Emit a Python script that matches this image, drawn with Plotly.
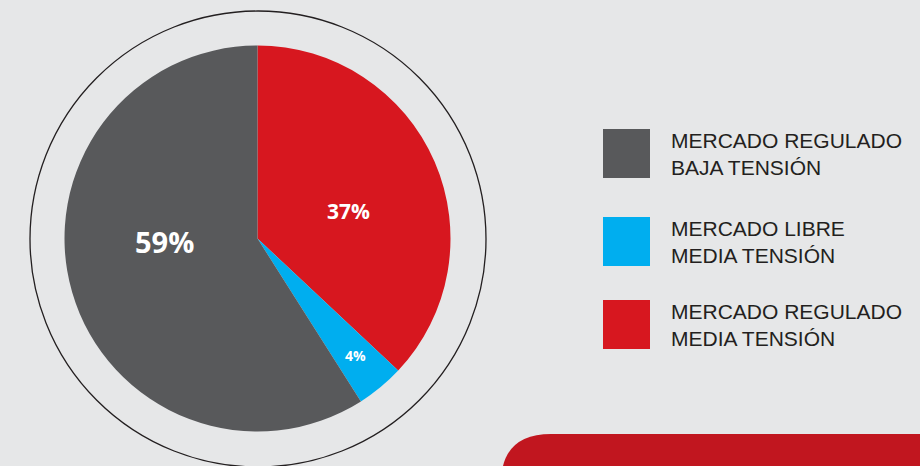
import plotly.graph_objects as go

# data
segments = ["MERCADO REGULADO<br>MEDIA TENSIÓN", "MERCADO LIBRE<br>MEDIA TENSIÓN", "MERCADO REGULADO<br>BAJA TENSIÓN"]
shares = [37, 4, 59]
seg_colors = ["#D7171F", "#00AEEF", "#58595B"]

# legend order as in the picture (top to bottom)
legend_order = [2, 1, 0]

W, H = 920, 466
BG = "#E6E7E8"


def px_x(x):
    return x / W


def px_y(y):
    # pixel from top -> paper from bottom
    return (H - y) / H


fig = go.Figure()

# pie, centred at (257, 238) with radius 193 px
cx, cy, r = 257.5, 238.5, 193
fig.add_trace(go.Pie(
    labels=segments,
    values=shares,
    marker=dict(colors=seg_colors, line=dict(width=0)),
    sort=False,
    direction="clockwise",
    rotation=0,
    textinfo="none",
    hoverinfo="label+percent",
    showlegend=False,
    domain=dict(x=[px_x(cx - r), px_x(cx + r)], y=[px_y(cy + r), px_y(cy - r)]),
))

# thin outer ring
R = 228
fig.add_shape(type="circle", xref="paper", yref="paper",
              x0=px_x(258 - R), x1=px_x(258 + R), y0=px_y(239 + R), y1=px_y(239 - R),
              line=dict(color="#231F20", width=1.3), layer="below")

# percentage labels
label_pos = [(348, 211, 21), (355, 355, 14), (164, 241, 29)]
for val, (lx, ly, fs) in zip(shares, label_pos):
    fig.add_annotation(x=px_x(lx), y=px_y(ly), xref="paper", yref="paper",
                       xanchor="center", yanchor="middle",
                       text=f"<b>{val}%</b>", showarrow=False,
                       font=dict(family="Open Sans", size=fs, color="white"))

# legend drawn by hand (big square swatches)
legend_tops = [129, 217, 300]
for top, i in zip(legend_tops, legend_order):
    fig.add_shape(type="rect", xref="paper", yref="paper",
                  x0=px_x(603), x1=px_x(650), y0=px_y(top + 49), y1=px_y(top),
                  fillcolor=seg_colors[i], line=dict(width=0))
    fig.add_annotation(x=px_x(669), y=px_y(top + 24.5), xref="paper", yref="paper",
                       text=segments[i], showarrow=False, xanchor="left", yanchor="middle",
                       align="left",
                       font=dict(family="Liberation Sans", size=21, color="#231F20"))

# red band bottom right
x0, y0 = px_x(501), px_y(434)
fig.add_shape(type="path", xref="paper", yref="paper",
              path=f"M {x0},-0.2 L {x0},{y0 - 50 / H} Q {x0},{y0} {x0 + 50 / W},{y0} "
                   f"L 1.05,{y0} L 1.05,-0.2 Z",
              fillcolor="#C1161F", line=dict(width=0))

fig.update_layout(
    width=W, height=H,
    margin=dict(l=0, r=0, t=0, b=0),
    paper_bgcolor=BG, plot_bgcolor=BG,
    showlegend=False,
)

fig.write_html("out.html", config={"displayModeBar": False},
               post_script="document.body.style.margin='0';")
